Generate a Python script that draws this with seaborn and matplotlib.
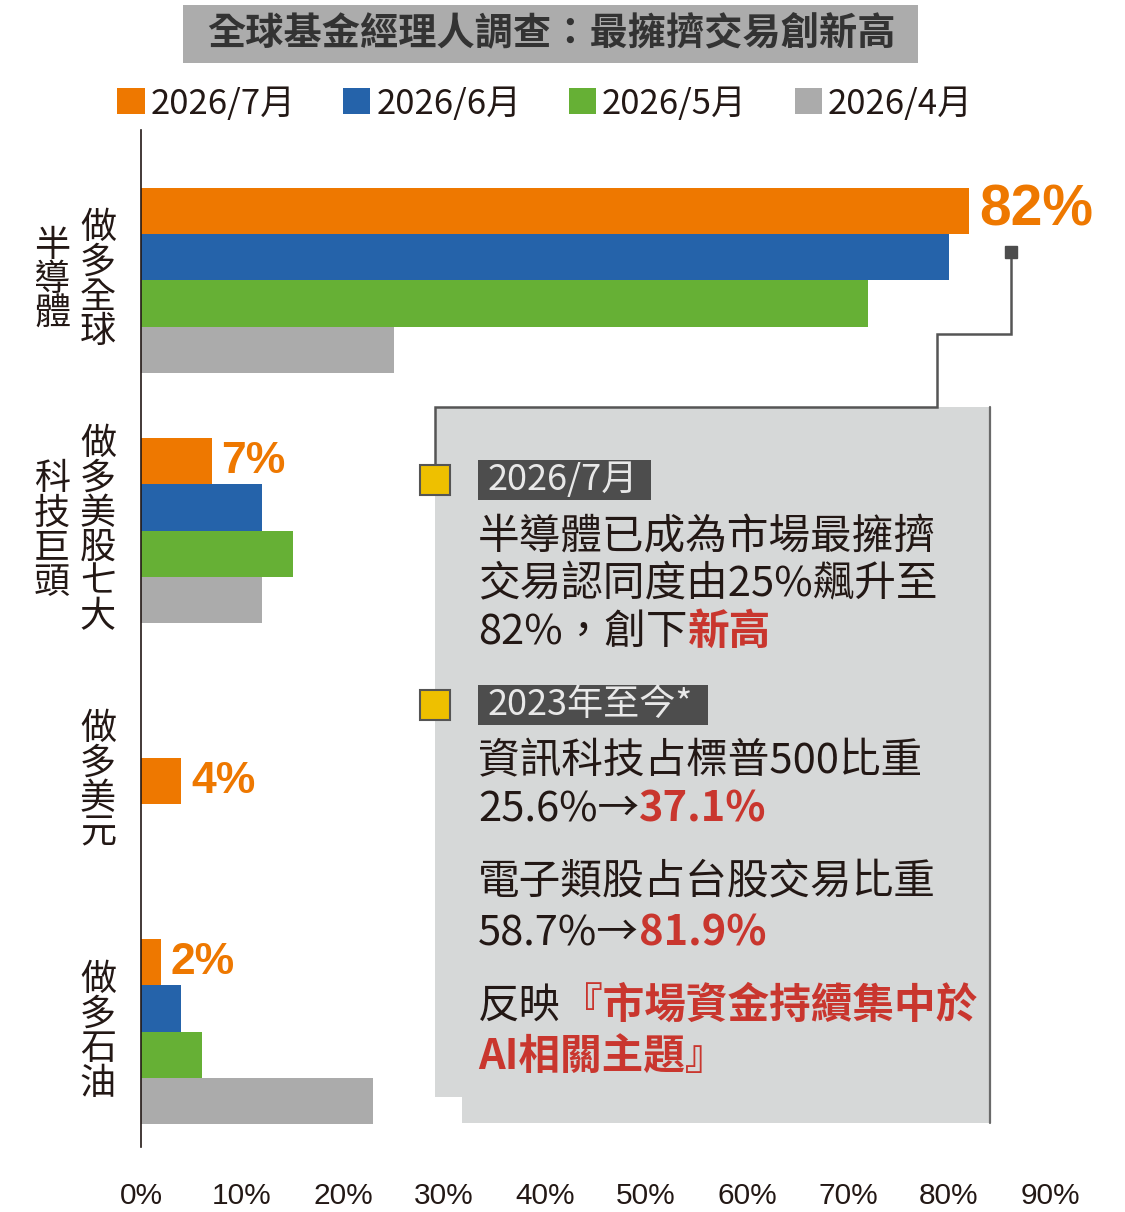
import matplotlib
matplotlib.use('Agg')
import matplotlib.pyplot as plt
import seaborn as sns
import pandas as pd
from matplotlib.patches import Patch, Rectangle, Polygon

# survey data (percent of fund managers naming each trade as most crowded)
trades = ['做多全球', '做多美股七大', '做多美元', '做多石油']
sectors = ['半導體', '科技巨頭', '', '']
months = ['2026/7月', '2026/6月', '2026/5月', '2026/4月']
jul = [82, 7, 4, 2]
jun = [80, 12, None, 4]
may = [72, 15, None, 6]
apr = [25, 12, None, 23]
xticks = [0, 10, 20, 30, 40, 50, 60, 70, 80, 90]

palette = ['#EE7800', '#2563AA', '#66B035', '#ABABAB']
ORANGE = '#EE7800'
RED = '#C9362E'
INK = '#231815'

rows = []
for m, vals in zip(months, [jul, jun, may, apr]):
    for t, v in zip(trades, vals):
        if v is not None:
            rows.append({'trade': t, 'month': m, 'value': v})
df = pd.DataFrame(rows)
counts = df.groupby('trade')['value'].count()
solo_trades = counts[counts == 1].index
grouped = df[~df['trade'].isin(solo_trades)]
solo = df[df['trade'].isin(solo_trades)]

sns.set_theme(style='white')
plt.rcParams['font.family'] = ['Noto Sans CJK TC', 'DejaVu Sans']

fig = plt.figure(figsize=(11.25, 12.12), dpi=100)
ax = fig.add_axes([141 / 1125, 1 - 1147 / 1212, 909 / 1125, 1017 / 1212])

W = 0.74
sns.barplot(data=grouped, y='trade', x='value', hue='month', order=trades,
            hue_order=months, palette=palette, width=W, saturation=1,
            orient='h', linewidth=0, errorbar=None, legend=False, ax=ax)
# a trade with a single month gets one centred bar
sns.barplot(data=solo, y='trade', x='value', order=trades, color=palette[0],
            width=W / len(months), saturation=1, orient='h', linewidth=0,
            errorbar=None, ax=ax)

big = max(jul)
for cont in [ax.containers[0], ax.containers[-1]]:
    labels = ax.bar_label(cont, fmt='%g%%', padding=7, color=ORANGE,
                          fontsize=32, fontweight='bold', family='Liberation Sans')
    for lab in labels:
        if lab.get_text() == f'{big}%':
            lab.set_fontsize(41)

ax.set_xlim(0, 90)
ax.set_ylim(3.46, -0.60)
ax.set_xticks(xticks)
ax.set_xticklabels([f'{t}%' for t in xticks], fontsize=21.5,
                   family='Liberation Sans', color=INK)
ax.set_yticks([])
ax.tick_params(axis='x', length=0, pad=25)
ax.set_xlabel('')
ax.set_ylabel('')
for s in ['top', 'right', 'bottom']:
    ax.spines[s].set_visible(False)
ax.spines['left'].set_color(INK)
ax.spines['left'].set_linewidth(1.2)

# vertical category labels
ytr = ax.get_yaxis_transform()
for i, (t, s) in enumerate(zip(trades, sectors)):
    ax.text(-0.0473, i, '\n'.join(t), transform=ytr, ha='center', va='center',
            fontsize=26, color=INK, linespacing=0.95)
    if s:
        ax.text(-0.0979, i, '\n'.join(s), transform=ytr, ha='center',
                va='center', fontsize=26, color=INK, linespacing=0.95)

handles = [Patch(facecolor=c, edgecolor='none') for c in palette]
fig.legend(handles, months, loc='center', bbox_to_anchor=(545 / 1125, 1 - 104 / 1212),
           ncol=4, frameon=False, fontsize=25, handlelength=0.78, handleheight=0.78,
           handletextpad=0.17, columnspacing=1.38, labelcolor=INK)

# overlay in pixel coordinates for title and note box
deco = fig.add_axes([0, 0, 1, 1])
deco.set_xlim(0, 1125)
deco.set_ylim(1212, 0)
deco.axis('off')
deco.set_facecolor('none')

deco.add_patch(Rectangle((183, 5), 735, 58, facecolor='#ACACAC', edgecolor='none'))
deco.text(551, 34, '全球基金經理人調查：最擁擠交易創新高', ha='center', va='center',
          fontsize=27.5, fontweight='bold', color='#333333')

deco.add_patch(Polygon([(435, 407), (990, 407), (990, 1123), (462, 1123),
                        (462, 1097), (435, 1097)], closed=True,
                       facecolor='#D6D8D8', edgecolor='none'))
deco.plot([435, 435, 937, 937, 1011, 1011], [467, 407, 407, 334, 334, 252],
          color='#555555', lw=1.8, solid_joinstyle='miter')
deco.plot([1011], [252], marker='s', ms=9, color='#4D4D4D')
deco.plot([990, 990], [407, 1123], color='#6A6A6A', lw=1.6)

for y, label, w in [(465, '2026/7月', 173), (690, '2023年至今*', 230)]:
    deco.add_patch(Rectangle((420, y), 30, 30, facecolor='#EEC000',
                             edgecolor='#555555', lw=1.5, zorder=3))
    deco.add_patch(Rectangle((478, y - 5), w, 40, facecolor='#4D4D4D', edgecolor='none'))
    deco.text(488, y + 15, label, color='#E8E8E8', fontsize=26, va='center', ha='left')

# (text, colour, weight)
body = [
    (533, [('半導體已成為市場最擁擠', INK, 'normal')]),
    (580, [('交易認同度由25%飆升至', INK, 'normal')]),
    (628, [('82%，創下', INK, 'normal'), ('新高', RED, 'bold')]),
    (757, [('資訊科技占標普500比重', INK, 'normal')]),
    (805, [('25.6%→', INK, 'normal'), ('37.1%', RED, 'bold')]),
    (877, [('電子類股占台股交易比重', INK, 'normal')]),
    (930, [('58.7%→', INK, 'normal'), ('81.9%', RED, 'bold')]),
    (1002, [('反映', INK, 'normal'), ('『市場資金持續集中於', RED, 'bold')]),
    (1053, [('AI相關主題』', RED, 'bold')]),
]


def text_line(x, y, parts, size=30):
    s, c, wt = parts[0]
    prev = deco.text(x, y + 16, s, color=c, fontweight=wt, fontsize=size,
                     va='baseline', ha='left')
    for s, c, wt in parts[1:]:
        prev = deco.annotate(s, xy=(1, 0), xycoords=prev, va='bottom', ha='left',
                             color=c, fontweight=wt, fontsize=size)


for y, parts in body:
    text_line(478, y, parts)

fig.savefig('out.png', dpi=100)
